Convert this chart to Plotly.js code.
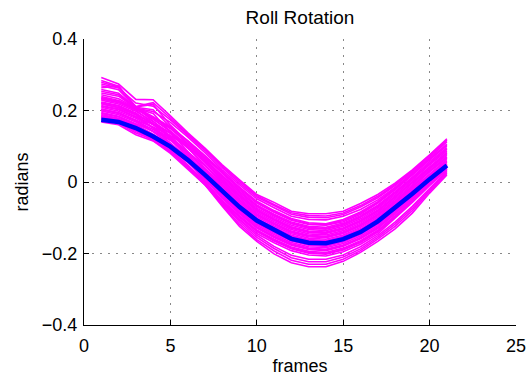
<!DOCTYPE html>
<html>
<head>
<meta charset="utf-8">
<script src="https://cdn.plot.ly/plotly-3.0.1.min.js"></script>
<style>html,body{margin:0;padding:0;background:#fff;}#chart{width:530px;height:377px;}</style>
</head>
<body>
<div id="chart"></div>
<script>
const frames = [1,2,3,4,5,6,7,8,9,10,11,12,13,14,15,16,17,18,19,20,21];

const rollTrials = [
  [0.292,0.274,0.231,0.230,0.185,0.138,0.095,0.048,0.006,-0.035,-0.057,-0.082,-0.089,-0.089,-0.082,-0.060,-0.035,-0.003,0.034,0.076,0.121],
  [0.284,0.268,0.211,0.222,0.179,0.134,0.092,0.044,0.002,-0.038,-0.063,-0.086,-0.094,-0.095,-0.087,-0.066,-0.040,-0.007,0.031,0.074,0.118],
  [0.274,0.263,0.221,0.212,0.174,0.132,0.088,0.040,-0.003,-0.042,-0.067,-0.090,-0.099,-0.100,-0.091,-0.070,-0.044,-0.010,0.029,0.072,0.116],
  [0.264,0.268,0.206,0.197,0.167,0.126,0.082,0.034,-0.008,-0.047,-0.072,-0.096,-0.105,-0.106,-0.096,-0.077,-0.050,-0.015,0.025,0.068,0.112],
  [0.234,0.223,0.203,0.180,0.152,0.116,0.074,0.029,-0.014,-0.054,-0.080,-0.102,-0.114,-0.117,-0.105,-0.084,-0.055,-0.017,0.024,0.067,0.106],
  [0.259,0.248,0.209,0.183,0.154,0.115,0.072,0.024,-0.019,-0.059,-0.085,-0.107,-0.119,-0.121,-0.111,-0.090,-0.059,-0.022,0.019,0.062,0.101],
  [0.204,0.193,0.173,0.154,0.130,0.098,0.060,0.019,-0.024,-0.064,-0.090,-0.112,-0.124,-0.127,-0.115,-0.094,-0.065,-0.027,0.014,0.057,0.096],
  [0.244,0.233,0.207,0.180,0.149,0.108,0.063,0.014,-0.029,-0.069,-0.095,-0.117,-0.129,-0.132,-0.120,-0.099,-0.070,-0.032,0.009,0.052,0.091],
  [0.219,0.208,0.188,0.164,0.136,0.099,0.056,0.010,-0.033,-0.073,-0.099,-0.121,-0.133,-0.136,-0.124,-0.103,-0.074,-0.036,0.005,0.048,0.087],
  [0.269,0.258,0.209,0.202,0.154,0.107,0.058,0.006,-0.037,-0.077,-0.103,-0.125,-0.137,-0.140,-0.128,-0.107,-0.078,-0.040,0.001,0.044,0.083],
  [0.194,0.184,0.163,0.142,0.117,0.084,0.045,0.002,-0.041,-0.081,-0.107,-0.129,-0.141,-0.144,-0.132,-0.111,-0.082,-0.044,-0.003,0.040,0.079],
  [0.229,0.218,0.198,0.169,0.136,0.095,0.048,-0.002,-0.045,-0.085,-0.111,-0.133,-0.145,-0.148,-0.136,-0.115,-0.086,-0.048,-0.007,0.036,0.075],
  [0.249,0.240,0.207,0.176,0.141,0.096,0.047,-0.006,-0.049,-0.089,-0.115,-0.137,-0.149,-0.152,-0.140,-0.119,-0.090,-0.052,-0.011,0.032,0.071],
  [0.209,0.198,0.178,0.152,0.122,0.082,0.038,-0.010,-0.053,-0.093,-0.119,-0.141,-0.153,-0.156,-0.144,-0.123,-0.094,-0.056,-0.015,0.028,0.067],
  [0.184,0.173,0.153,0.131,0.105,0.070,0.030,-0.014,-0.057,-0.097,-0.123,-0.145,-0.157,-0.160,-0.148,-0.127,-0.098,-0.060,-0.019,0.024,0.063],
  [0.224,0.214,0.193,0.162,0.127,0.084,0.035,-0.018,-0.061,-0.101,-0.127,-0.149,-0.161,-0.164,-0.152,-0.131,-0.102,-0.064,-0.023,0.020,0.059],
  [0.239,0.228,0.206,0.192,0.139,0.086,0.034,-0.022,-0.065,-0.105,-0.131,-0.153,-0.165,-0.168,-0.156,-0.135,-0.106,-0.068,-0.027,0.016,0.055],
  [0.199,0.188,0.168,0.141,0.109,0.069,0.023,-0.026,-0.069,-0.109,-0.135,-0.157,-0.169,-0.172,-0.160,-0.139,-0.110,-0.072,-0.031,0.012,0.051],
  [0.214,0.204,0.183,0.152,0.117,0.073,0.023,-0.030,-0.073,-0.113,-0.139,-0.161,-0.173,-0.176,-0.164,-0.143,-0.114,-0.075,-0.033,0.009,0.049],
  [0.179,0.170,0.148,0.123,0.094,0.056,0.013,-0.034,-0.077,-0.117,-0.143,-0.165,-0.177,-0.180,-0.168,-0.147,-0.118,-0.079,-0.036,0.007,0.047],
  [0.254,0.244,0.208,0.170,0.128,0.078,0.022,-0.038,-0.081,-0.121,-0.147,-0.169,-0.181,-0.184,-0.172,-0.151,-0.122,-0.082,-0.039,0.005,0.045],
  [0.189,0.178,0.158,0.129,0.097,0.055,0.009,-0.042,-0.085,-0.125,-0.151,-0.173,-0.185,-0.188,-0.176,-0.155,-0.126,-0.086,-0.042,0.002,0.043],
  [0.204,0.194,0.173,0.141,0.104,0.059,0.008,-0.046,-0.089,-0.129,-0.155,-0.177,-0.189,-0.192,-0.180,-0.159,-0.130,-0.089,-0.045,0.000,0.041],
  [0.176,0.165,0.143,0.116,0.084,0.044,-0.002,-0.051,-0.094,-0.134,-0.160,-0.182,-0.194,-0.197,-0.185,-0.164,-0.135,-0.094,-0.049,-0.004,0.038],
  [0.219,0.208,0.188,0.151,0.109,0.059,0.003,-0.056,-0.099,-0.139,-0.165,-0.187,-0.199,-0.202,-0.190,-0.169,-0.140,-0.098,-0.053,-0.007,0.036],
  [0.182,0.172,0.151,0.120,0.085,0.041,-0.008,-0.061,-0.104,-0.144,-0.170,-0.192,-0.204,-0.207,-0.195,-0.174,-0.145,-0.102,-0.057,-0.010,0.033],
  [0.212,0.202,0.181,0.161,0.138,0.105,0.068,0.026,-0.017,-0.057,-0.083,-0.105,-0.117,-0.120,-0.108,-0.087,-0.058,-0.020,0.021,0.064,0.103],
  [0.279,0.266,0.210,0.217,0.159,0.112,0.066,0.016,-0.027,-0.067,-0.093,-0.115,-0.127,-0.130,-0.118,-0.097,-0.068,-0.030,0.011,0.054,0.093],
  [0.236,0.226,0.205,0.176,0.143,0.102,0.055,0.004,-0.039,-0.079,-0.105,-0.127,-0.139,-0.142,-0.130,-0.109,-0.080,-0.042,-0.001,0.042,0.081],
  [0.202,0.192,0.171,0.147,0.118,0.081,0.038,-0.008,-0.051,-0.091,-0.117,-0.139,-0.151,-0.154,-0.142,-0.121,-0.092,-0.054,-0.013,0.030,0.069],
  [0.222,0.212,0.191,0.160,0.126,0.082,0.033,-0.020,-0.063,-0.103,-0.129,-0.151,-0.163,-0.166,-0.154,-0.133,-0.104,-0.066,-0.025,0.018,0.057],
  [0.192,0.182,0.161,0.134,0.102,0.061,0.017,-0.032,-0.075,-0.115,-0.141,-0.163,-0.175,-0.178,-0.166,-0.145,-0.116,-0.077,-0.035,0.008,0.048],
  [0.232,0.222,0.201,0.163,0.122,0.071,0.015,-0.044,-0.087,-0.127,-0.153,-0.175,-0.187,-0.190,-0.178,-0.157,-0.128,-0.087,-0.044,0.001,0.042],
  [0.186,0.176,0.155,0.125,0.090,0.047,-0.002,-0.054,-0.097,-0.137,-0.163,-0.185,-0.197,-0.200,-0.188,-0.167,-0.138,-0.096,-0.051,-0.005,0.037],
  [0.168,0.160,0.132,0.115,0.080,0.035,-0.008,-0.068,-0.124,-0.166,-0.201,-0.226,-0.237,-0.237,-0.222,-0.197,-0.166,-0.131,-0.087,-0.031,0.020],
  [0.174,0.164,0.137,0.119,0.085,0.040,-0.006,-0.064,-0.118,-0.161,-0.193,-0.219,-0.230,-0.230,-0.216,-0.192,-0.160,-0.124,-0.080,-0.026,0.024],
  [0.179,0.168,0.141,0.122,0.089,0.044,-0.002,-0.059,-0.112,-0.155,-0.186,-0.212,-0.223,-0.223,-0.210,-0.187,-0.155,-0.118,-0.074,-0.022,0.027],
  [0.184,0.172,0.145,0.125,0.092,0.048,0.002,-0.054,-0.107,-0.149,-0.180,-0.205,-0.216,-0.216,-0.204,-0.181,-0.150,-0.112,-0.068,-0.018,0.030]
];

const rollMean = [0.174,0.168,0.151,0.127,0.099,0.062,0.020,-0.026,-0.070,-0.108,-0.135,-0.159,-0.170,-0.171,-0.160,-0.140,-0.110,-0.073,-0.033,0.008,0.046];

const xTicks = [0,5,10,15,20,25];
const yTicks = [-0.4,-0.2,0,0.2,0.4];
const yTickText = ['\u22120.4','\u22120.2','0','0.2','0.4'];

const traces = rollTrials.map(vals => ({
  x: frames, y: vals, type: 'scatter', mode: 'lines',
  line: {color: '#ff00ff', width: 1.6}, hoverinfo: 'skip', showlegend: false
}));
traces.push({
  x: frames, y: rollMean, type: 'scatter', mode: 'lines',
  line: {color: '#0000ff', width: 4.5}, showlegend: false
});

const font = {family: '"Liberation Sans", Arial, Helvetica, sans-serif', color: '#000'};

const layout = {
  width: 530, height: 377,
  margin: {l: 84, r: 14, t: 39, b: 52, pad: 0},
  paper_bgcolor: '#fff', plot_bgcolor: '#fff',
  font: Object.assign({size: 18}, font),
  title: {text: 'Roll Rotation', font: Object.assign({size: 19}, font),
          xref: 'paper', x: 0.5, xanchor: 'center', yref: 'container', y: 0.955, yanchor: 'middle'},
  xaxis: {
    range: [0, 25], tickvals: xTicks, ticktext: xTicks.map(String),
    showline: true, linecolor: '#000', linewidth: 1, mirror: false,
    ticks: 'inside', ticklen: 5, tickcolor: '#000', tickwidth: 1,
    showgrid: true, gridcolor: '#888', griddash: '2px,6px', gridwidth: 1,
    zeroline: false, tickfont: Object.assign({size: 18}, font), ticklabelstandoff: 4,
    title: {text: 'frames', font: Object.assign({size: 18}, font), standoff: 4}
  },
  yaxis: {
    range: [-0.4, 0.4], tickvals: yTicks, ticktext: yTickText,
    showline: true, linecolor: '#000', linewidth: 1, mirror: false,
    ticks: 'inside', ticklen: 5, tickcolor: '#000', tickwidth: 1,
    showgrid: true, gridcolor: '#888', griddash: '2px,6px', gridwidth: 1,
    zeroline: false, tickfont: Object.assign({size: 18}, font), ticklabelstandoff: 2,
    title: {text: 'radians', font: Object.assign({size: 18}, font), standoff: 8}
  }
};

Plotly.newPlot('chart', traces, layout, {displayModeBar: false, staticPlot: true});
</script>
</body>
</html>
